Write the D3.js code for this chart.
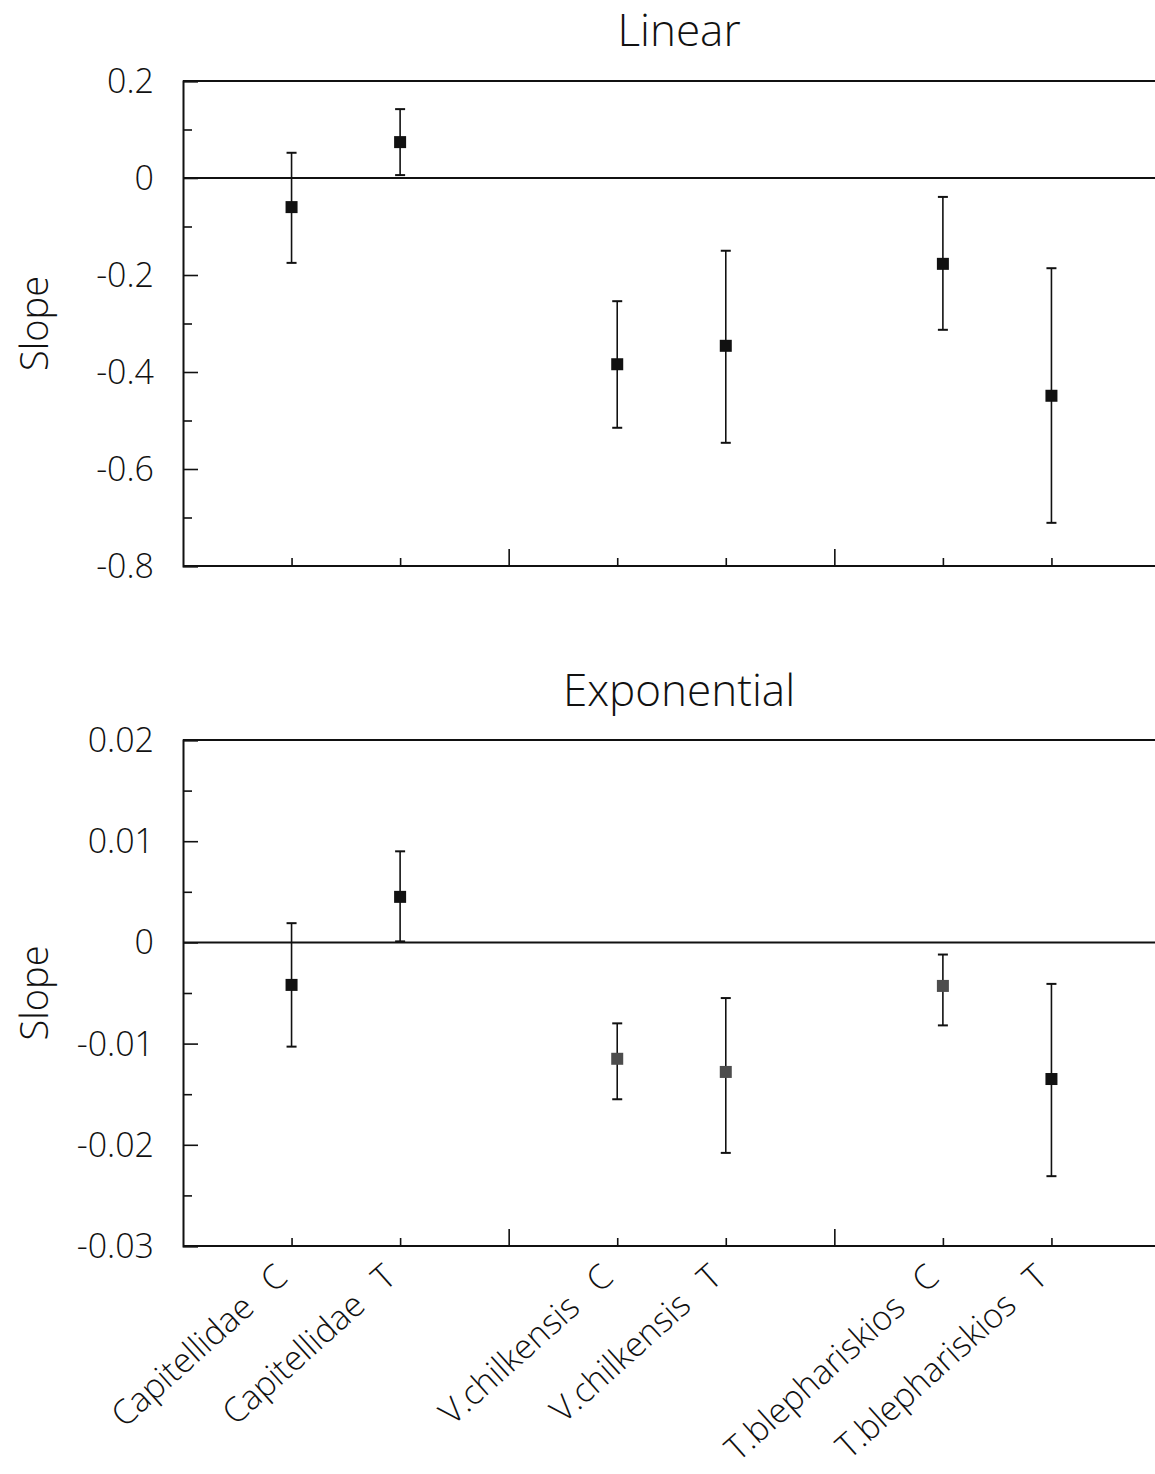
<!DOCTYPE html>
<html><head><meta charset="utf-8">
<script src="https://cdn.jsdelivr.net/npm/d3@7"></script>
<style>
html,body{margin:0;padding:0;background:#fff;}
text{font-family:"Open Sans","Liberation Sans",sans-serif;font-weight:300;fill:#111;}
</style></head>
<body>
<svg id="c" width="1155" height="1474"></svg>
<script>
const categoryNames = ["Capitellidae","Capitellidae","V.chilkensis","V.chilkensis","T.blephariskios","T.blephariskios"];
const categoryCodes = ["C","T","C","T","C","T"];
const positions = [1,2,4,5,7,8];
const separators = [3,6];
const linearSlope = [-0.06, 0.074, -0.384, -0.346, -0.177, -0.449];
const linearLow   = [-0.175, 0.006, -0.515, -0.546, -0.313, -0.711];
const linearHigh  = [0.052, 0.142, -0.254, -0.150, -0.039, -0.186];
const expSlope = [-0.0042, 0.0045, -0.0115, -0.0128, -0.0043, -0.0135];
const expLow   = [-0.0103, 0.0001, -0.0155, -0.0208, -0.0082, -0.0231];
const expHigh  = [0.0019, 0.0090, -0.0080, -0.0055, -0.0012, -0.0041];
const linearTicks = [0.2, 0, -0.2, -0.4, -0.6, -0.8];
const linearMinor = [0.1, -0.1, -0.3, -0.5, -0.7];
const expTicks = [0.02, 0.01, 0, -0.01, -0.02, -0.03];
const expMinor = [0.015, 0.005, -0.005, -0.015, -0.025];
const expGray = [false, false, true, true, true, false];

const svg = d3.select("#c");
const x = d3.scaleLinear().domain([0, 9]).range([183, 1160]);

function panel(cfg) {
  const y = d3.scaleLinear().domain(cfg.domain).range(cfg.range);
  const g = svg.append("g");
  const [y0, y1] = cfg.range;
  g.append("text").attr("x", 679).attr("y", cfg.titleY).attr("text-anchor", "middle")
    .style("font-size", "44px").text(cfg.title);
  g.append("text").attr("transform", `translate(48,${(y0 + y1) / 2}) rotate(-90)`)
    .attr("text-anchor", "middle").style("font-size", "38px").text("Slope");
  [cfg.domain[1], cfg.domain[0], 0].forEach(v => {
    g.append("line").attr("x1", x(0)).attr("x2", 1155).attr("y1", y(v)).attr("y2", y(v))
      .attr("stroke", "#111").attr("stroke-width", 2);
  });
  const ax = d3.axisRight(y).tickValues(cfg.ticks).tickSize(15).tickFormat("");
  const axg = g.append("g").attr("transform", `translate(${x(0)},0)`).call(ax);
  axg.select(".domain").attr("stroke", "#111").attr("stroke-width", 2);
  axg.selectAll(".tick line").attr("stroke", "#111").attr("stroke-width", 1.6);
  const axm = d3.axisRight(y).tickValues(cfg.minor).tickSize(9).tickFormat("");
  const amg = g.append("g").attr("transform", `translate(${x(0)},0)`).call(axm);
  amg.select(".domain").remove();
  amg.selectAll(".tick line").attr("stroke", "#111").attr("stroke-width", 1.6);
  g.selectAll(".yl").data(cfg.ticks).join("text").attr("class", "yl")
    .attr("x", 154).attr("y", d => y(d) + 12).attr("text-anchor", "end")
    .style("font-size", "34px").text(d => d === 0 ? "0" : cfg.fmt(d).replace("\u2212", "-"));
  const xb = d3.axisTop(x).tickValues(positions).tickSize(8).tickFormat("");
  const xg = g.append("g").attr("transform", `translate(0,${y0})`).call(xb);
  xg.select(".domain").remove();
  xg.selectAll(".tick line").attr("stroke", "#111").attr("stroke-width", 1.6);
  const xs = d3.axisTop(x).tickValues(separators).tickSize(17).tickFormat("");
  const xsg = g.append("g").attr("transform", `translate(0,${y0})`).call(xs);
  xsg.select(".domain").remove();
  xsg.selectAll(".tick line").attr("stroke", "#111").attr("stroke-width", 1.6);
  const idx = d3.range(positions.length);
  const cap = 5;
  g.selectAll(".eb").data(idx).join("line").attr("class", "eb")
    .attr("x1", i => x(positions[i])).attr("x2", i => x(positions[i]))
    .attr("y1", i => y(cfg.low[i])).attr("y2", i => y(cfg.high[i]))
    .attr("stroke", "#111").attr("stroke-width", 1.6);
  g.selectAll(".ct").data(idx).join("line").attr("class", "ct")
    .attr("x1", i => x(positions[i]) - cap).attr("x2", i => x(positions[i]) + cap)
    .attr("y1", i => y(cfg.high[i])).attr("y2", i => y(cfg.high[i]))
    .attr("stroke", "#111").attr("stroke-width", 2);
  g.selectAll(".cb").data(idx).join("line").attr("class", "cb")
    .attr("x1", i => x(positions[i]) - cap).attr("x2", i => x(positions[i]) + cap)
    .attr("y1", i => y(cfg.low[i])).attr("y2", i => y(cfg.low[i]))
    .attr("stroke", "#111").attr("stroke-width", 2);
  const s = 12;
  g.selectAll(".pt").data(idx).join("rect").attr("class", "pt")
    .attr("x", i => x(positions[i]) - s / 2).attr("y", i => y(cfg.mid[i]) - s / 2)
    .attr("width", s).attr("height", s)
    .attr("fill", i => cfg.gray && cfg.gray[i] ? "#4d4d4d" : "#111");
  return y;
}

panel({title: "Linear", titleY: 46, domain: [-0.8, 0.2], range: [566, 81],
  ticks: linearTicks, minor: linearMinor, fmt: d3.format(".1f"),
  mid: linearSlope, low: linearLow, high: linearHigh});
panel({title: "Exponential", titleY: 706, domain: [-0.03, 0.02], range: [1246, 740],
  ticks: expTicks, minor: expMinor, fmt: d3.format(".2f"),
  mid: expSlope, low: expLow, high: expHigh, gray: expGray});

const lab = svg.selectAll(".xl").data(d3.range(positions.length)).join("text").attr("class", "xl")
  .attr("transform", i => `translate(${x(positions[i]) - 2},1280) rotate(-42)`)
  .attr("text-anchor", "end").style("font-size", "34px");
lab.append("tspan").text(i => categoryNames[i]);
lab.append("tspan").attr("dx", 24).text(i => categoryCodes[i]);
</script>
</body></html>
